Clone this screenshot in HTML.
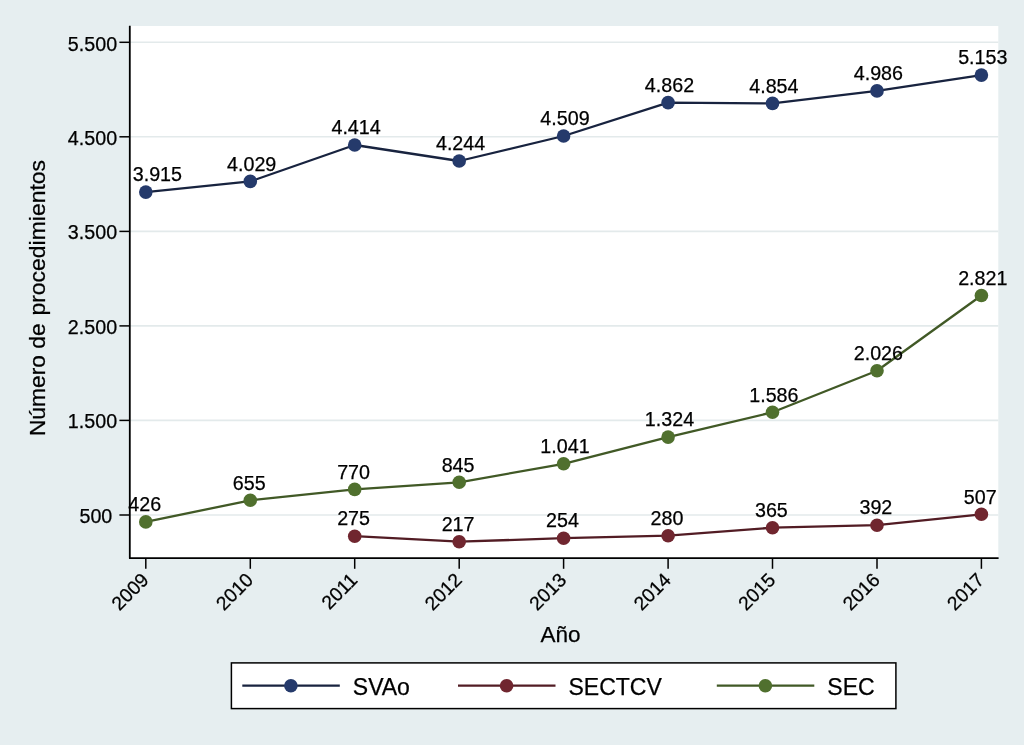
<!DOCTYPE html><html><head><meta charset="utf-8"><title>Número de procedimientos</title>
<style>html,body{margin:0;padding:0;background:#e6eef0}svg{display:block}text{font-family:"Liberation Sans",Arial,Helvetica,sans-serif;fill:#000;stroke:#000;stroke-width:.25px}.l{font-size:19.7px}.t{font-size:23px}</style></head><body>
<svg width="1024" height="745" viewBox="0 0 1024 745">
<rect width="1024" height="745" fill="#e6eef0"/>
<rect x="129.8" y="26" width="868.5" height="532.2" fill="#fff"/>
<line x1="130" x2="998.3" y1="515.0" y2="515.0" stroke="#e3eaeb" stroke-width="1.6"/>
<line x1="130" x2="998.3" y1="420.4" y2="420.4" stroke="#e3eaeb" stroke-width="1.6"/>
<line x1="130" x2="998.3" y1="325.9" y2="325.9" stroke="#e3eaeb" stroke-width="1.6"/>
<line x1="130" x2="998.3" y1="231.4" y2="231.4" stroke="#e3eaeb" stroke-width="1.6"/>
<line x1="130" x2="998.3" y1="136.8" y2="136.8" stroke="#e3eaeb" stroke-width="1.6"/>
<line x1="130" x2="998.3" y1="42.3" y2="42.3" stroke="#e3eaeb" stroke-width="1.6"/>
<polyline points="145.8,192.1 250.3,181.4 354.7,145.0 459.2,161.0 563.6,136.0 668.1,102.6 772.5,103.4 877.0,90.9 981.4,75.1" fill="none" stroke="#18233f" stroke-width="2.3" stroke-linejoin="round"/>
<circle cx="145.8" cy="192.1" r="6.8" fill="#253a6b"/>
<circle cx="250.3" cy="181.4" r="6.8" fill="#253a6b"/>
<circle cx="354.7" cy="145.0" r="6.8" fill="#253a6b"/>
<circle cx="459.2" cy="161.0" r="6.8" fill="#253a6b"/>
<circle cx="563.6" cy="136.0" r="6.8" fill="#253a6b"/>
<circle cx="668.1" cy="102.6" r="6.8" fill="#253a6b"/>
<circle cx="772.5" cy="103.4" r="6.8" fill="#253a6b"/>
<circle cx="877.0" cy="90.9" r="6.8" fill="#253a6b"/>
<circle cx="981.4" cy="75.1" r="6.8" fill="#253a6b"/>
<polyline points="354.7,536.2 459.2,541.7 563.6,538.2 668.1,535.7 772.5,527.7 877.0,525.2 981.4,514.3" fill="none" stroke="#521c24" stroke-width="2.3" stroke-linejoin="round"/>
<circle cx="354.7" cy="536.2" r="6.8" fill="#70262f"/>
<circle cx="459.2" cy="541.7" r="6.8" fill="#70262f"/>
<circle cx="563.6" cy="538.2" r="6.8" fill="#70262f"/>
<circle cx="668.1" cy="535.7" r="6.8" fill="#70262f"/>
<circle cx="772.5" cy="527.7" r="6.8" fill="#70262f"/>
<circle cx="877.0" cy="525.2" r="6.8" fill="#70262f"/>
<circle cx="981.4" cy="514.3" r="6.8" fill="#70262f"/>
<polyline points="145.8,521.9 250.3,500.3 354.7,489.4 459.2,482.3 563.6,463.8 668.1,437.1 772.5,412.3 877.0,370.7 981.4,295.5" fill="none" stroke="#415926" stroke-width="2.3" stroke-linejoin="round"/>
<circle cx="145.8" cy="521.9" r="6.8" fill="#50702e"/>
<circle cx="250.3" cy="500.3" r="6.8" fill="#50702e"/>
<circle cx="354.7" cy="489.4" r="6.8" fill="#50702e"/>
<circle cx="459.2" cy="482.3" r="6.8" fill="#50702e"/>
<circle cx="563.6" cy="463.8" r="6.8" fill="#50702e"/>
<circle cx="668.1" cy="437.1" r="6.8" fill="#50702e"/>
<circle cx="772.5" cy="412.3" r="6.8" fill="#50702e"/>
<circle cx="877.0" cy="370.7" r="6.8" fill="#50702e"/>
<circle cx="981.4" cy="295.5" r="6.8" fill="#50702e"/>
<text class="l" x="157.4" y="181.3" text-anchor="middle">3.915</text>
<text class="l" x="251.7" y="170.6" text-anchor="middle">4.029</text>
<text class="l" x="356.1" y="134.2" text-anchor="middle">4.414</text>
<text class="l" x="460.6" y="150.2" text-anchor="middle">4.244</text>
<text class="l" x="565.0" y="125.2" text-anchor="middle">4.509</text>
<text class="l" x="669.5" y="91.8" text-anchor="middle">4.862</text>
<text class="l" x="773.9" y="92.6" text-anchor="middle">4.854</text>
<text class="l" x="878.4" y="80.1" text-anchor="middle">4.986</text>
<text class="l" x="982.8" y="64.3" text-anchor="middle">5.153</text>
<text class="l" x="353.6" y="525.4" text-anchor="middle">275</text>
<text class="l" x="458.1" y="530.9" text-anchor="middle">217</text>
<text class="l" x="562.5" y="527.4" text-anchor="middle">254</text>
<text class="l" x="667.0" y="524.9" text-anchor="middle">280</text>
<text class="l" x="771.4" y="516.9" text-anchor="middle">365</text>
<text class="l" x="875.9" y="514.4" text-anchor="middle">392</text>
<text class="l" x="980.3" y="503.5" text-anchor="middle">507</text>
<text class="l" x="144.8" y="511.1" text-anchor="middle">426</text>
<text class="l" x="249.2" y="489.5" text-anchor="middle">655</text>
<text class="l" x="353.6" y="478.6" text-anchor="middle">770</text>
<text class="l" x="458.1" y="471.5" text-anchor="middle">845</text>
<text class="l" x="565.0" y="453.0" text-anchor="middle">1.041</text>
<text class="l" x="669.5" y="426.3" text-anchor="middle">1.324</text>
<text class="l" x="773.9" y="401.5" text-anchor="middle">1.586</text>
<text class="l" x="878.4" y="359.9" text-anchor="middle">2.026</text>
<text class="l" x="982.8" y="284.7" text-anchor="middle">2.821</text>
<polyline points="129.8,25.8 129.8,558.2 998.6,558.2" fill="none" stroke="#000" stroke-width="1.8" stroke-linejoin="round"/>
<line x1="119.4" x2="129.8" y1="515.0" y2="515.0" stroke="#000" stroke-width="1.5"/>
<text class="l" x="112.3" y="522.6" text-anchor="end">500</text>
<line x1="119.4" x2="129.8" y1="420.4" y2="420.4" stroke="#000" stroke-width="1.5"/>
<text class="l" x="117.1" y="428.2" text-anchor="end">1.500</text>
<line x1="119.4" x2="129.8" y1="325.9" y2="325.9" stroke="#000" stroke-width="1.5"/>
<text class="l" x="117.1" y="333.8" text-anchor="end">2.500</text>
<line x1="119.4" x2="129.8" y1="231.4" y2="231.4" stroke="#000" stroke-width="1.5"/>
<text class="l" x="117.1" y="239.4" text-anchor="end">3.500</text>
<line x1="119.4" x2="129.8" y1="136.8" y2="136.8" stroke="#000" stroke-width="1.5"/>
<text class="l" x="117.1" y="145.1" text-anchor="end">4.500</text>
<line x1="119.4" x2="129.8" y1="42.3" y2="42.3" stroke="#000" stroke-width="1.5"/>
<text class="l" x="117.1" y="50.7" text-anchor="end">5.500</text>
<line x1="145.8" x2="145.8" y1="558.2" y2="568.8" stroke="#000" stroke-width="1.5"/>
<text class="l" style="font-size:19.3px" transform="translate(149.8,581.1) rotate(-45)" text-anchor="end">2009</text>
<line x1="250.3" x2="250.3" y1="558.2" y2="568.8" stroke="#000" stroke-width="1.5"/>
<text class="l" style="font-size:19.3px" transform="translate(254.3,581.1) rotate(-45)" text-anchor="end">2010</text>
<line x1="354.7" x2="354.7" y1="558.2" y2="568.8" stroke="#000" stroke-width="1.5"/>
<text class="l" style="font-size:19.3px" transform="translate(358.7,581.1) rotate(-45)" text-anchor="end">2011</text>
<line x1="459.2" x2="459.2" y1="558.2" y2="568.8" stroke="#000" stroke-width="1.5"/>
<text class="l" style="font-size:19.3px" transform="translate(463.2,581.1) rotate(-45)" text-anchor="end">2012</text>
<line x1="563.6" x2="563.6" y1="558.2" y2="568.8" stroke="#000" stroke-width="1.5"/>
<text class="l" style="font-size:19.3px" transform="translate(567.6,581.1) rotate(-45)" text-anchor="end">2013</text>
<line x1="668.1" x2="668.1" y1="558.2" y2="568.8" stroke="#000" stroke-width="1.5"/>
<text class="l" style="font-size:19.3px" transform="translate(672.1,581.1) rotate(-45)" text-anchor="end">2014</text>
<line x1="772.5" x2="772.5" y1="558.2" y2="568.8" stroke="#000" stroke-width="1.5"/>
<text class="l" style="font-size:19.3px" transform="translate(776.5,581.1) rotate(-45)" text-anchor="end">2015</text>
<line x1="877.0" x2="877.0" y1="558.2" y2="568.8" stroke="#000" stroke-width="1.5"/>
<text class="l" style="font-size:19.3px" transform="translate(881.0,581.1) rotate(-45)" text-anchor="end">2016</text>
<line x1="981.4" x2="981.4" y1="558.2" y2="568.8" stroke="#000" stroke-width="1.5"/>
<text class="l" style="font-size:19.3px" transform="translate(985.4,581.1) rotate(-45)" text-anchor="end">2017</text>
<text class="t" style="font-size:22.8px" transform="translate(45.3,436.1) rotate(-90)" text-anchor="start">Número de<tspan dx="1.4" style="font-size:22.95px"> procedimientos</tspan></text>
<text class="t" style="font-size:22.5px" x="560.6" y="642" text-anchor="middle">Año</text>
<rect x="231.4" y="662.9" width="664.5" height="45.7" fill="#fff" stroke="#000" stroke-width="1.5"/>
<line x1="242.3" x2="339.8" y1="685.7" y2="685.7" stroke="#18233f" stroke-width="2.2"/>
<circle cx="290.9" cy="685.7" r="6.8" fill="#253a6b"/>
<text class="t" x="352.8" y="695.2">SVAo</text>
<line x1="458.0" x2="555.5" y1="685.7" y2="685.7" stroke="#521c24" stroke-width="2.2"/>
<circle cx="506.6" cy="685.7" r="6.8" fill="#70262f"/>
<text class="t" x="568.5" y="695.2">SECTCV</text>
<line x1="716.8" x2="814.3" y1="685.7" y2="685.7" stroke="#415926" stroke-width="2.2"/>
<circle cx="765.4" cy="685.7" r="6.8" fill="#50702e"/>
<text class="t" x="827.3" y="695.2">SEC</text>
</svg></body></html>
